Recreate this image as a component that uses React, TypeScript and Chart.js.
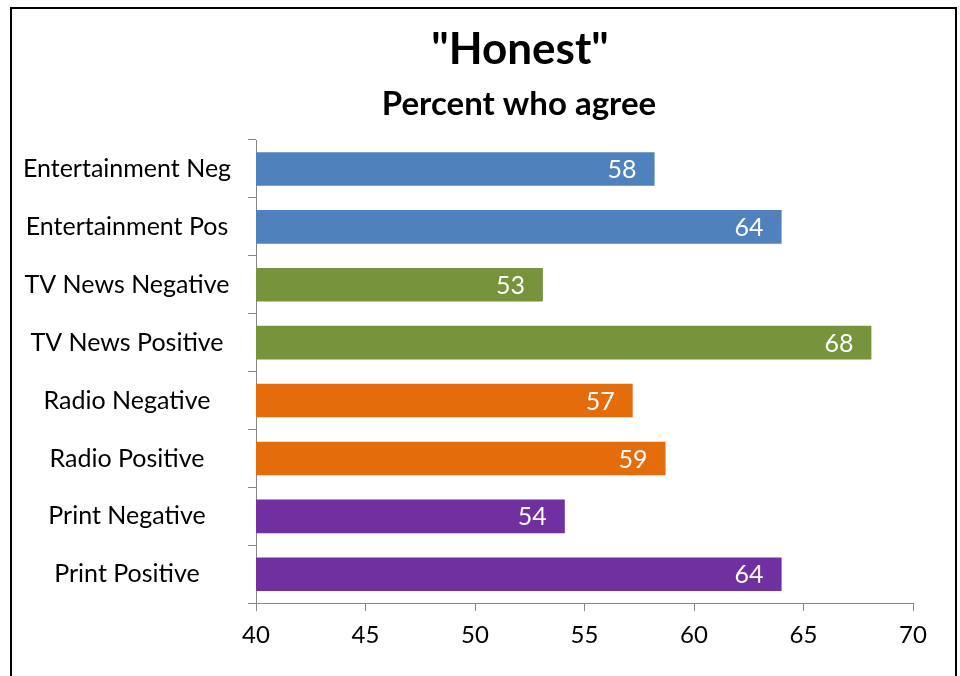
import React, { useEffect, useRef } from "react";
import { Chart, registerables } from "chart.js";

Chart.register(...registerables);

const categories = [
  "Entertainment Neg",
  "Entertainment Pos",
  "TV News Negative",
  "TV News Positive",
  "Radio Negative",
  "Radio Positive",
  "Print Negative",
  "Print Positive",
];
const values = [58.2, 64.0, 53.1, 68.1, 57.2, 58.7, 54.1, 64.0];
const barColors = [
  "#4F81BD",
  "#4F81BD",
  "#77933C",
  "#77933C",
  "#E46C0A",
  "#E46C0A",
  "#7030A0",
  "#7030A0",
];
const xMin = 40;
const xMax = 70;
const xStep = 5;
const titleText = '"Honest"';
const subtitleText = "Percent who agree";

const FONT = "Lato, 'Open Sans', sans-serif";
const AXIS_GRAY = "#878787";

export default function App() {
  const ref = useRef<HTMLCanvasElement | null>(null);

  useEffect(() => {
    const canvas = ref.current;
    if (!canvas) return;

    // measure widest category label so labels can be centred in the axis band
    const mctx = document.createElement("canvas").getContext("2d")!;
    mctx.font = `25px ${FONT}`;
    let widest = 0;
    categories.forEach((c) => {
      widest = Math.max(widest, mctx.measureText(c).width);
    });
    const labelPad = Math.max(4, 121 - widest / 2);

    const titlePlugin = {
      id: "customTitle",
      afterDraw(chart: any) {
        const ctx = chart.ctx;
        ctx.save();
        ctx.fillStyle = "#000";
        ctx.textAlign = "center";
        ctx.textBaseline = "alphabetic";
        ctx.font = `bold 44px ${FONT}`;
        ctx.fillText(titleText, 508, 55);
        ctx.font = `bold 33px ${FONT}`;
        ctx.fillText(subtitleText, 507, 106);
        ctx.restore();
      },
    };

    const valueLabels = {
      id: "valueLabels",
      afterDatasetsDraw(chart: any) {
        const ctx = chart.ctx;
        const meta = chart.getDatasetMeta(0);
        ctx.save();
        ctx.fillStyle = "#FFFFFF";
        ctx.textAlign = "right";
        ctx.textBaseline = "middle";
        ctx.font = `25px ${FONT}`;
        meta.data.forEach((bar: any, i: number) => {
          const v = chart.data.datasets[0].data[i] as number;
          ctx.fillText(String(Math.round(v)), bar.x - 18, bar.y + 1);
        });
        ctx.restore();
      },
    };

    const chart = new Chart(canvas, {
      type: "bar",
      data: {
        labels: categories,
        datasets: [
          {
            data: values,
            backgroundColor: barColors,
            borderWidth: 0,
            barPercentage: 0.58,
            categoryPercentage: 1,
          },
        ],
      },
      options: {
        indexAxis: "y",
        responsive: false,
        animation: false,
        devicePixelRatio: 1,
        layout: {
          padding: { top: 131, right: 42, left: 0, bottom: 16 },
        },
        plugins: {
          legend: { display: false },
          tooltip: { enabled: false },
          title: { display: false },
        },
        scales: {
          x: {
            type: "linear",
            position: "bottom",
            min: xMin,
            max: xMax,
            ticks: {
              stepSize: xStep,
              color: "#000",
              padding: 10,
              font: { family: FONT, size: 24 },
            },
            grid: {
              drawOnChartArea: false,
              drawTicks: true,
              tickLength: 8,
              color: AXIS_GRAY,
            },
            border: { display: true, color: AXIS_GRAY, width: 1 },
          },
          y: {
            type: "category",
            offset: true,
            ticks: {
              color: "#000",
              crossAlign: "center",
              padding: labelPad,
              font: { family: FONT, size: 25 },
            },
            grid: {
              offset: true,
              drawOnChartArea: false,
              drawTicks: true,
              tickLength: 8,
              color: AXIS_GRAY,
            },
            border: { display: true, color: AXIS_GRAY, width: 1 },
            afterFit(scale: any) {
              scale.width = 244;
            },
          },
        },
      },
      plugins: [titlePlugin, valueLabels],
    });

    return () => chart.destroy();
  }, []);

  return (
    <div
      style={{
        position: "fixed",
        left: 10,
        top: 7,
        width: 947,
        height: 720,
        border: "2px solid #000",
        boxSizing: "border-box",
        background: "#fff",
      }}
    >
      <canvas ref={ref} width={943} height={667} style={{ display: "block" }} />
    </div>
  );
}
